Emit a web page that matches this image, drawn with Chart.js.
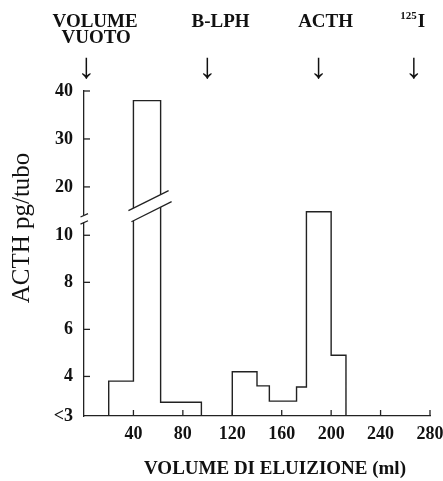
<!DOCTYPE html>
<html><head><meta charset="utf-8">
<script src="https://cdn.jsdelivr.net/npm/chart.js@4.4.1/dist/chart.umd.min.js"></script>
<style>html,body{margin:0;padding:0;background:#fff;overflow:hidden}canvas{display:block}</style>
</head><body>
<canvas id="c" width="443" height="481"></canvas>
<script>
// ---- data ----
const binStart = [20, 40, 62, 120, 140, 150, 172, 180, 200];
const binEnd   = [40, 62, 95, 140, 150, 172, 180, 200, 212];
const acthPg   = [3.8, 38, 2.9, 4.2, 3.6, 2.95, 3.55, 11, 4.9];
const xTicks = [40, 80, 120, 160, 200, 240, 280];
const yTickValues = [3, 4, 6, 8, 10, 20, 30, 40];
const yTickLabels = ['<3', '4', '6', '8', '10', '20', '30', '40'];
const markerVolumes = [2, 100, 190, 267];
const markerLabelAt = [9, 110.5, 195.5, 266];

// ---- broken y scale (two linear pieces) ----
function toAxis(v) { return v < 14 ? 110.25 + 23.55 * (v - 7) : 277.3 + 4.8 * (v - 30); }
const Y_MIN = 0, Y_MAX = toAxis(40);
const BAR_BREAK = 208.5, AXIS_BREAK = 197.3;

const pts = [];
for (let i = 0; i < binStart.length; i++) {
  const joinedPrev = i > 0 && binEnd[i - 1] === binStart[i];
  if (!joinedPrev) {
    if (i > 0) pts.push({ x: (binEnd[i - 1] + binStart[i]) / 2, y: null });
    pts.push({ x: binStart[i], y: Y_MIN });
  }
  pts.push({ x: binStart[i], y: toAxis(acthPg[i]) });
  pts.push({ x: binEnd[i], y: toAxis(acthPg[i]) });
  const joinedNext = i < binStart.length - 1 && binEnd[i] === binStart[i + 1];
  if (!joinedNext) pts.push({ x: binEnd[i], y: Y_MIN });
}

const SERIF = '"Liberation Serif", "DejaVu Serif", serif';
const tickFont = { family: SERIF, weight: 'bold', size: 18 };
const INK = '#222';

const decor = {
  id: 'decor',
  afterDraw(chart) {
    const ctx = chart.ctx, xs = chart.scales.x, ys = chart.scales.y;
    const ca = chart.chartArea;
    ctx.save();
    ctx.strokeStyle = INK; ctx.lineWidth = 1.3;
    // inward tick marks
    xTicks.forEach(v => {
      const px = xs.getPixelForValue(v);
      ctx.beginPath(); ctx.moveTo(px, ca.bottom); ctx.lineTo(px, ca.bottom - 6); ctx.stroke();
    });
    yTickValues.forEach((v, i) => {
      if (i === 0) return;
      const py = ys.getPixelForValue(toAxis(v));
      ctx.beginPath(); ctx.moveTo(ca.left, py); ctx.lineTo(ca.left + 6, py); ctx.stroke();
    });
    // bar break
    const bi = acthPg.findIndex(v => v >= 14);
    if (bi >= 0) {
      const L = xs.getPixelForValue(binStart[bi]), R = xs.getPixelForValue(binEnd[bi]);
      const yc = ys.getPixelForValue(BAR_BREAK), mid = (L + R) / 2, s = -0.5, h = 6.3;
      const cy = x => yc + s * (x - mid);
      ctx.fillStyle = '#fff';
      ctx.beginPath();
      ctx.moveTo(L - 3, cy(L - 3) - h); ctx.lineTo(R + 3, cy(R + 3) - h);
      ctx.lineTo(R + 3, cy(R + 3) + h); ctx.lineTo(L - 3, cy(L - 3) + h); ctx.closePath(); ctx.fill();
      ctx.beginPath(); ctx.moveTo(L - 5, cy(L - 5) - h); ctx.lineTo(R + 8, cy(R + 8) - h); ctx.stroke();
      ctx.beginPath(); ctx.moveTo(L - 2, cy(L - 2) + h); ctx.lineTo(R + 11, cy(R + 11) + h); ctx.stroke();
    }
    // axis break
    const ya = ys.getPixelForValue(AXIS_BREAK), yu = ya - 3.6, yl = ya + 3.6;
    ctx.fillStyle = '#fff';
    ctx.fillRect(ca.left - 3, yu, 6, yl - yu);
    [yu, yl].forEach(yy => {
      ctx.beginPath(); ctx.moveTo(ca.left - 3.5, yy + 1.7); ctx.lineTo(ca.left + 4, yy - 1.7); ctx.stroke();
    });
    // texts
    ctx.fillStyle = '#111';
    ctx.textBaseline = 'alphabetic';
    ctx.textAlign = 'center';
    ctx.font = 'bold 19px ' + SERIF;
    const lx = markerLabelAt.map(v => xs.getPixelForValue(v));
    ctx.fillText('VOLUME', lx[0], 27);
    ctx.fillText('VUOTO', lx[0] + 1, 43);
    ctx.fillText('B-LPH', lx[1], 27);
    ctx.fillText('ACTH', lx[2], 27);
    // 125I
    ctx.textAlign = 'left';
    ctx.font = 'bold 11px ' + SERIF; const w1 = ctx.measureText('125').width;
    ctx.font = 'bold 19px ' + SERIF; const w2 = ctx.measureText('I').width;
    const sx = lx[3] - (w1 + w2 + 1) / 2;
    ctx.font = 'bold 11px ' + SERIF; ctx.fillText('125', sx, 19);
    ctx.font = 'bold 19px ' + SERIF; ctx.fillText('I', sx + w1 + 1, 27);
    // arrows
    ctx.textAlign = 'center';
    ctx.font = '36px ' + SERIF;
    markerVolumes.forEach(v => ctx.fillText('\u2193', xs.getPixelForValue(v), 78));
    // x title
    ctx.font = 'bold 19px ' + SERIF;
    ctx.fillText('VOLUME DI ELUIZIONE (ml)', 275, 474);
    // y title
    ctx.save();
    ctx.translate(29, 228); ctx.rotate(-Math.PI / 2);
    ctx.font = '25px ' + SERIF;
    ctx.fillText('ACTH pg/tubo', 0, 0);
    ctx.restore();
    ctx.restore();
  }
};

new Chart(document.getElementById('c'), {
  type: 'line',
  data: { datasets: [{
    data: pts, borderColor: INK, borderWidth: 1.4, pointRadius: 0,
    tension: 0, spanGaps: false, fill: false, clip: false
  }] },
  options: {
    responsive: false, animation: false, devicePixelRatio: 1,
    layout: { padding: { left: 0, right: 13, top: 91, bottom: 25 } },
    plugins: { legend: { display: false }, tooltip: { enabled: false } },
    scales: {
      x: {
        type: 'linear', min: 0, max: 280,
        afterBuildTicks: s => { s.ticks = xTicks.map(v => ({ value: v })); },
        afterFit: s => { s.height = 40; s.paddingLeft = 0; s.paddingRight = 0; },
        ticks: { font: tickFont, color: '#111', padding: 8, maxRotation: 0, autoSkip: false },
        grid: { display: false, drawTicks: false },
        border: { display: true, color: INK, width: 1.3 }
      },
      y: {
        type: 'linear', min: Y_MIN, max: Y_MAX,
        afterBuildTicks: s => { s.ticks = yTickValues.map((v, i) => ({ value: i === 0 ? Y_MIN : toAxis(v) })); },
        afterFit: s => { s.width = 84; s.paddingTop = 0; s.paddingBottom = 0; },
        ticks: { font: tickFont, color: '#111', padding: 11, autoSkip: false,
                 callback: (v, i) => yTickLabels[i] },
        grid: { display: false, drawTicks: false },
        border: { display: true, color: INK, width: 1.3 }
      }
    }
  },
  plugins: [decor]
});
</script>
</body></html>
